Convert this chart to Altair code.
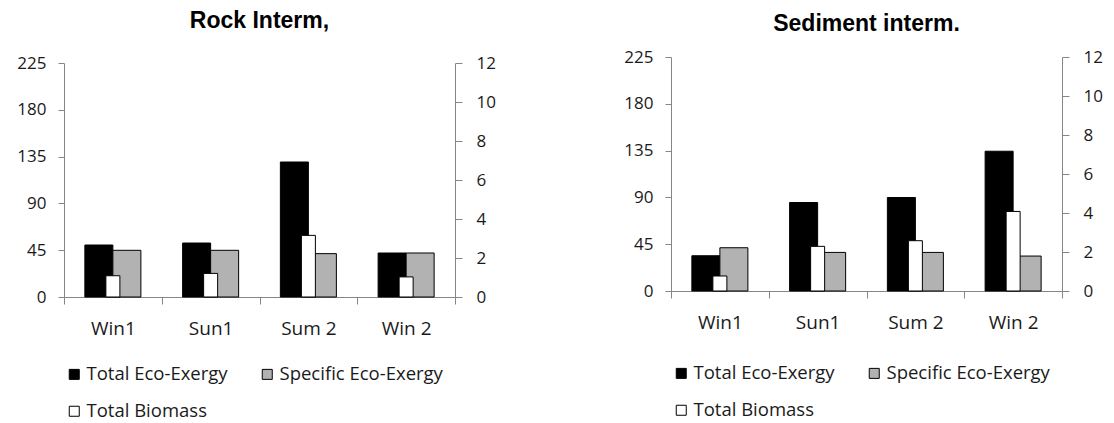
import altair as alt
import pandas as pd

# Sampling periods on the x axis
categories = ["Win1", "Sun1", "Sum 2", "Win 2"]

# Series shown in each panel, with their fills
series_names = ["Total Eco-Exergy", "Specific Eco-Exergy", "Total Biomass"]
series_colors = ["#000000", "#b2b2b2", "#ffffff"]

# Rock intermediate zone
rock_total_exergy = [50.0, 51.9, 129.8, 42.3]
rock_specific_exergy = [44.9, 44.9, 41.7, 42.3]
rock_total_biomass = [1.09, 1.21, 3.16, 1.03]

# Sediment intermediate zone
sediment_total_exergy = [33.9, 85.1, 89.9, 134.4]
sediment_specific_exergy = [41.6, 37.1, 37.1, 33.6]
sediment_total_biomass = [0.77, 2.29, 2.58, 4.08]

exergy_ticks = [0, 45, 90, 135, 180, 225]
biomass_ticks = [0, 2, 4, 6, 8, 10, 12]

AXIS_GRAY = "#868686"
TEXT = "#1a1a1a"
FONT = "Open Sans"
PLOT_W = 391
PLOT_H = 234


def panel(title, total, specific, biomass, title_offset, legend_y, drop):
    """Two exergy bars per period on the left axis, biomass on the right axis.

    `drop` lowers the plotting area inside the panel by that many pixels.
    """
    height = PLOT_H + drop
    y_range = [height, drop]

    exergy_df = pd.DataFrame(
        {
            "category": categories * 2,
            "series": [series_names[0]] * 4 + [series_names[1]] * 4,
            "value": total + specific,
        }
    )
    biomass_df = pd.DataFrame(
        {"category": categories, "series": [series_names[2]] * 4, "value": biomass}
    )

    color = alt.Color(
        "series:N",
        scale=alt.Scale(domain=series_names, range=series_colors),
        legend=alt.Legend(
            title=None,
            orient="none",
            direction="horizontal",
            legendX=1,
            legendY=legend_y,
            columns=2,
            padding=0,
            columnPadding=30,
            rowPadding=18,
            symbolType="square",
            symbolSize=100,
            symbolStrokeColor="black",
            symbolStrokeWidth=1,
            labelFont=FONT,
            labelFontSize=18.5,
            labelColor=TEXT,
            labelOffset=3,
            labelLimit=400,
        ),
    )

    x = alt.X(
        "category:N",
        sort=categories,
        scale=alt.Scale(paddingInner=0, paddingOuter=0),
        axis=alt.Axis(
            title=None,
            labelAngle=0,
            tickBand="extent",
            labelFont=FONT,
            labelFontSize=19,
            labelColor=TEXT,
            labelPadding=15,
            tickSize=7,
            domainColor=AXIS_GRAY,
            tickColor=AXIS_GRAY,
        ),
    )

    exergy = (
        alt.Chart(exergy_df)
        .mark_bar(stroke="black", strokeWidth=1)
        .encode(
            x=x,
            xOffset=alt.XOffset(
                "series:N",
                sort=series_names[:2],
                scale=alt.Scale(
                    domain=series_names[:2], paddingInner=0, paddingOuter=0.745
                ),
            ),
            y=alt.Y(
                "value:Q",
                scale=alt.Scale(domain=[0, 225], nice=False, range=y_range),
                axis=alt.Axis(
                    title=None,
                    orient="left",
                    values=exergy_ticks,
                    grid=False,
                    labelFont=FONT,
                    labelFontSize=17,
                    labelColor=TEXT,
                    labelPadding=12,
                    tickSize=6,
                    domainColor=AXIS_GRAY,
                    tickColor=AXIS_GRAY,
                ),
            ),
            color=color,
        )
    )

    biomass_bars = (
        alt.Chart(biomass_df)
        .mark_bar(stroke="black", strokeWidth=1, width=14)
        .encode(
            x=x,
            y=alt.Y(
                "value:Q",
                scale=alt.Scale(domain=[0, 12], nice=False, range=y_range),
                axis=alt.Axis(
                    title=None,
                    orient="right",
                    values=biomass_ticks,
                    grid=False,
                    labelFont=FONT,
                    labelFontSize=17,
                    labelColor=TEXT,
                    labelPadding=14,
                    tickSize=7,
                    domainColor=AXIS_GRAY,
                    tickColor=AXIS_GRAY,
                ),
            ),
            color=color,
        )
    )

    return (
        alt.layer(exergy, biomass_bars)
        .resolve_scale(y="independent")
        .properties(
            width=PLOT_W,
            height=height,
            title=alt.Title(
                title,
                font="Liberation Sans",
                fontSize=23,
                fontWeight="bold",
                color="black",
                anchor="middle",
                offset=title_offset,
            ),
        )
    )


rock = panel(
    "Rock Interm,",
    rock_total_exergy,
    rock_specific_exergy,
    rock_total_biomass,
    title_offset=20.7,
    legend_y=308,
    drop=6,
)
sediment = panel(
    "Sediment interm.",
    sediment_total_exergy,
    sediment_specific_exergy,
    sediment_total_biomass,
    title_offset=12.5,
    legend_y=307,
    drop=0,
)

chart = (
    alt.hconcat(rock, sediment, spacing=127)
    .resolve_scale(color="independent")
    .configure_view(stroke=None)
    .properties(padding={"left": 16, "top": 10, "right": 5, "bottom": 5})
)

chart.save("out.html", embed_options={"renderer": "svg", "actions": False})
